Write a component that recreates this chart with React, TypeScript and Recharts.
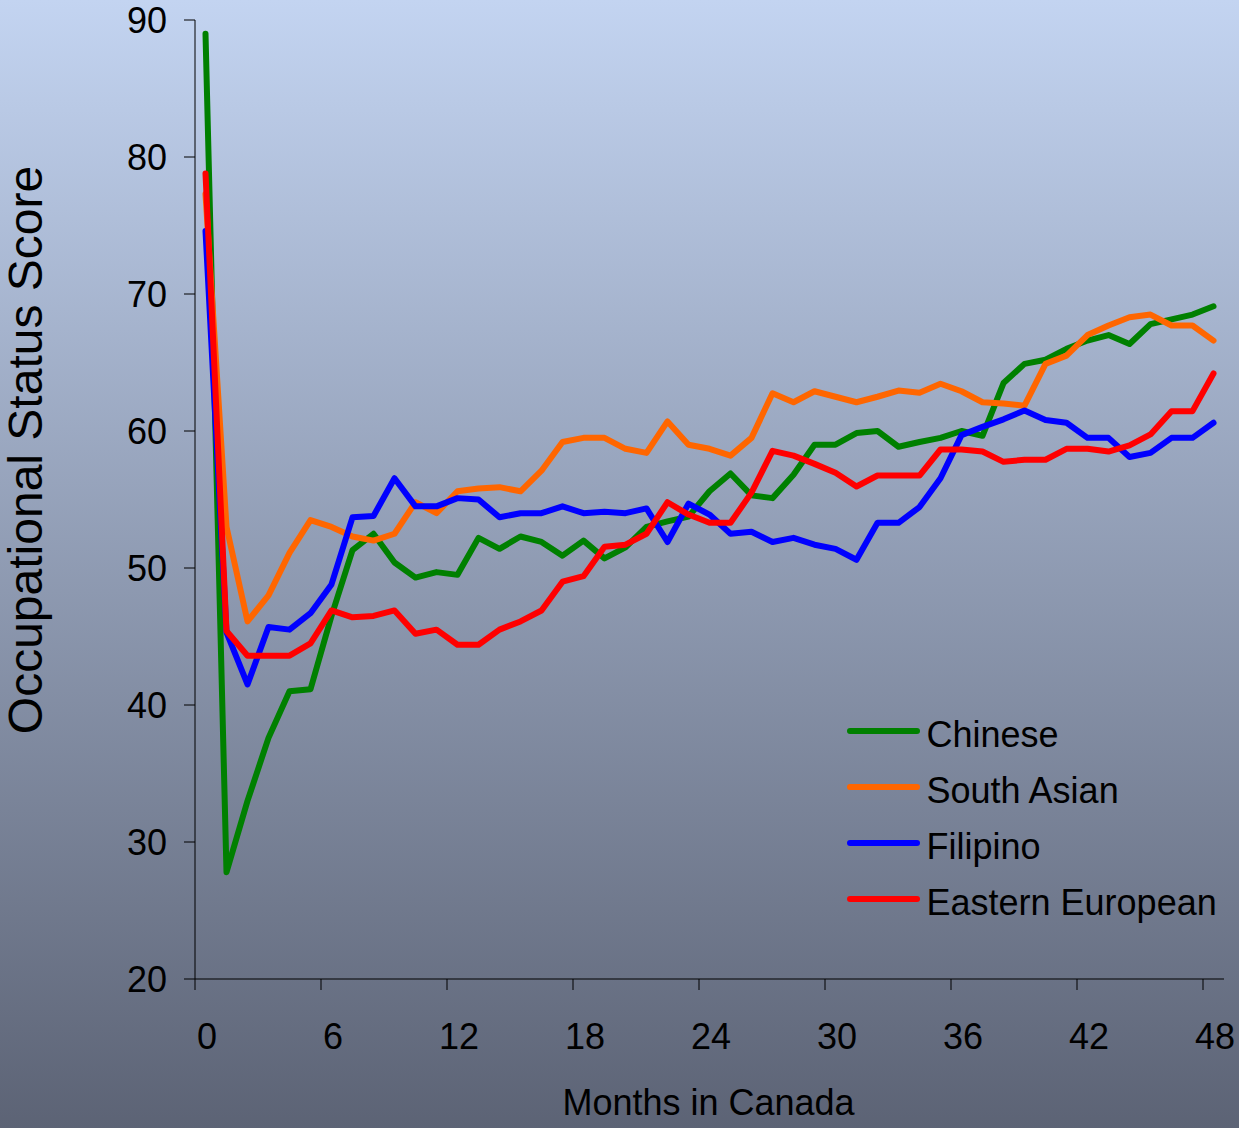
import React from 'react';
import { LineChart, Line, XAxis, YAxis, Legend } from 'recharts';

const months = [0, 1, 2, 3, 4, 5, 6, 7, 8, 9, 10, 11, 12, 13, 14, 15, 16, 17, 18, 19, 20, 21, 22, 23, 24, 25, 26, 27, 28, 29, 30, 31, 32, 33, 34, 35, 36, 37, 38, 39, 40, 41, 42, 43, 44, 45, 46, 47, 48];

const chinese = [89.0, 27.8, 33.0, 37.6, 41.0, 41.15, 46.5, 51.3, 52.5, 50.4, 49.3, 49.7, 49.5, 52.2, 51.4, 52.3, 51.9, 50.9, 52.0, 50.7, 51.5, 53.0, 53.4, 53.75, 55.6, 56.9, 55.3, 55.1, 56.8, 59.0, 59.0, 59.85, 60.0, 58.85, 59.2, 59.5, 60.0, 59.65, 63.5, 64.9, 65.2, 66.0, 66.6, 67.0, 66.35, 67.8, 68.15, 68.5, 69.1];

const southAsian = [77.3, 53.0, 46.1, 48.0, 51.1, 53.5, 53.0, 52.3, 52.0, 52.5, 54.8, 54.0, 55.6, 55.8, 55.9, 55.6, 57.1, 59.2, 59.5, 59.5, 58.7, 58.4, 60.7, 59.0, 58.7, 58.2, 59.5, 62.75, 62.1, 62.9, 62.5, 62.1, 62.5, 62.95, 62.8, 63.45, 62.9, 62.1, 62.0, 61.85, 64.9, 65.5, 67.0, 67.7, 68.3, 68.5, 67.7, 67.7, 66.6];

const filipino = [74.6, 45.3, 41.5, 45.7, 45.5, 46.7, 48.8, 53.7, 53.8, 56.55, 54.5, 54.5, 55.1, 55.0, 53.7, 54.0, 54.0, 54.5, 54.0, 54.1, 54.0, 54.35, 51.9, 54.7, 53.9, 52.5, 52.65, 51.9, 52.2, 51.7, 51.4, 50.6, 53.3, 53.3, 54.45, 56.55, 59.7, 60.3, 60.85, 61.5, 60.8, 60.6, 59.5, 59.5, 58.1, 58.4, 59.5, 59.5, 60.6];

const easternEuropean = [78.8, 45.4, 43.6, 43.6, 43.6, 44.5, 46.9, 46.4, 46.5, 46.9, 45.2, 45.5, 44.4, 44.4, 45.5, 46.1, 46.9, 49.0, 49.4, 51.55, 51.7, 52.5, 54.8, 53.9, 53.3, 53.3, 55.5, 58.55, 58.2, 57.6, 56.95, 55.95, 56.75, 56.75, 56.75, 58.65, 58.65, 58.5, 57.75, 57.9, 57.9, 58.7, 58.7, 58.5, 58.95, 59.75, 61.45, 61.45, 64.2];

const xTicks = [0, 6, 12, 18, 24, 30, 36, 42, 48];
const yTicks = [20, 30, 40, 50, 60, 70, 80, 90];

const seriesKeys = ['chinese', 'southAsian', 'filipino', 'easternEuropean'];
const seriesNames = ['Chinese', 'South Asian', 'Filipino', 'Eastern European'];
const seriesColors = ['#008000', '#FF6600', '#0000FF', '#FF0000'];

const data = months.map((m, i) => ({
  month: m,
  chinese: chinese[i],
  southAsian: southAsian[i],
  filipino: filipino[i],
  easternEuropean: easternEuropean[i],
}));

const FONT = '"Liberation Sans", Arial, sans-serif';
const W = 1239;
const H = 1128;
const MARGIN = { top: 20, right: 15, bottom: 0, left: 0 };
const YAXIS_W = 195;
const XAXIS_H = 149;
const PLOT_W = W - MARGIN.left - MARGIN.right - YAXIS_W;
const HALF_BAND = PLOT_W / months.length / 2;
const STROKE_W = 6;

const XTick = (props: any) => {
  const { x, y, payload } = props;
  return (
    <g>
      <line x1={x - HALF_BAND} x2={x - HALF_BAND} y1={y} y2={y + 11} stroke="#000" strokeWidth={1} />
      <text x={x + 1.5} y={y + 70} textAnchor="middle" fontSize={36} fill="#000" fontFamily={FONT}>
        {payload.value}
      </text>
    </g>
  );
};

const XTitle = (props: any) => {
  const vb = props.viewBox || { x: 195, y: 979, width: 1029 };
  const cx = vb.x + vb.width / 2 - 1;
  return (
    <text x={cx} y={vb.y + 136} textAnchor="middle" fontSize={36} fill="#000" fontFamily={FONT}>
      Months in Canada
    </text>
  );
};

const YTitle = () => (
  <text
    x={42}
    y={450}
    transform="rotate(-90 42 450)"
    textAnchor="middle"
    fontSize={48}
    fill="#000"
    fontFamily={FONT}
  >
    Occupational Status Score
  </text>
);

const LegendContent = (props: any) => {
  const payload = [...(props.payload || [])].sort(
    (a: any, b: any) => seriesNames.indexOf(a.value) - seriesNames.indexOf(b.value)
  );
  return (
    <svg width={400} height={230} style={{ display: 'block' }}>
      {payload.map((p: any, i: number) => (
        <g key={i}>
          <line
            x1={10}
            x2={77}
            y1={31 + 56 * i}
            y2={31 + 56 * i}
            stroke={p.color}
            strokeWidth={STROKE_W}
            strokeLinecap="round"
          />
          <text x={86.5} y={47 + 56 * i} fontSize={36} fill="#000" fontFamily={FONT}>
            {p.value}
          </text>
        </g>
      ))}
    </svg>
  );
};

export default function App() {
  return (
    <div
      style={{
        position: 'absolute',
        left: 0,
        top: 0,
        width: W,
        height: H,
        background: 'linear-gradient(to bottom, #c3d4f1 0%, #5c6375 100%)',
        fontFamily: FONT,
      }}
    >
      <LineChart width={W} height={H} data={data} margin={MARGIN}>
        <XAxis
          dataKey="month"
          type="number"
          domain={[-0.5, 48.5]}
          ticks={xTicks}
          interval={0}
          height={XAXIS_H}
          tickSize={0}
          tickMargin={0}
          tickLine={false}
          axisLine={{ stroke: '#000', strokeWidth: 1 }}
          tick={<XTick />}
          label={<XTitle />}
        />
        <YAxis
          type="number"
          domain={[20, 90]}
          ticks={yTicks}
          interval={0}
          width={YAXIS_W}
          tickSize={11}
          tickMargin={17}
          axisLine={{ stroke: '#000', strokeWidth: 1 }}
          tickLine={{ stroke: '#000', strokeWidth: 1 }}
          tick={{ fontSize: 36, fill: '#000', fontFamily: FONT }}
          label={<YTitle />}
        />
        <Legend
          layout="vertical"
          align="center"
          verticalAlign="middle"
          content={<LegendContent />}
          wrapperStyle={{ position: 'absolute', left: 840, top: 700, width: 400, height: 230 }}
        />
        {seriesKeys.map((k, i) => (
          <Line
            key={k}
            type="linear"
            dataKey={k}
            name={seriesNames[i]}
            stroke={seriesColors[i]}
            strokeWidth={STROKE_W}
            strokeLinejoin="round"
            strokeLinecap="round"
            dot={false}
            activeDot={false}
            isAnimationActive={false}
          />
        ))}
      </LineChart>
    </div>
  );
}
